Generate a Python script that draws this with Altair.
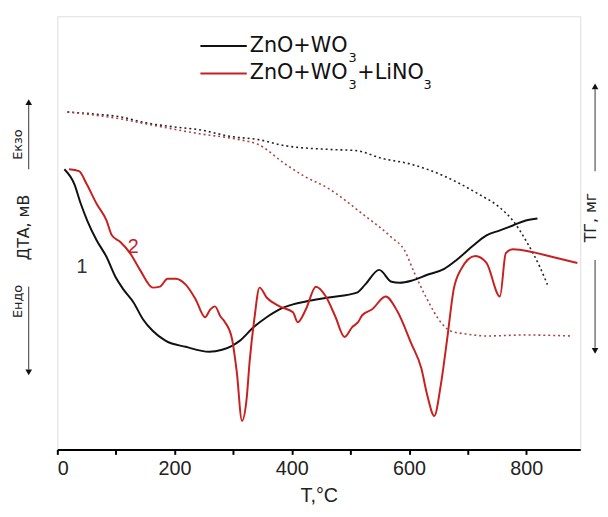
import altair as alt
import pandas as pd

# ---- data (temperature in °C, signals in arbitrary units) ----
T_dta_1 = [12, 29, 40, 51, 67, 84, 99, 113, 130, 146, 163, 185, 219, 259, 281, 298, 311, 335, 357, 379,
           402, 424, 463, 511, 525, 549, 570, 584, 604, 631, 660, 681, 710, 732, 755, 777, 799, 819]
dta_1 = [284, 269, 249, 232, 212, 195, 175, 162, 149, 132, 120, 110, 104, 99, 101, 105, 110, 124, 134, 142,
         147, 150, 154, 159, 167, 182, 170, 169, 171, 177, 183, 192, 207, 217, 222, 227, 232, 234]

T_dta_2 = [20, 37, 50, 67, 84, 93, 108, 124, 141, 163, 175, 188, 202, 219, 236, 252, 261, 269, 278, 286,
           298, 306, 315, 323, 328, 336, 345, 357, 379, 402, 410, 424, 441, 458, 474, 490, 503, 513, 520, 537,
           560, 580, 604, 621, 631, 643, 654, 665, 676, 688, 713, 732, 755, 765, 777, 811, 845, 887]
dta_2 = [284, 282, 269, 249, 232, 217, 210, 199, 182, 164, 165, 173, 173, 167, 152, 134, 142, 145, 135, 129,
         112, 79, 29, 52, 89, 132, 164, 154, 145, 139, 129, 142, 165, 155, 135, 114, 124, 129, 136, 142,
         155, 140, 107, 82, 55, 34, 65, 112, 162, 182, 196, 189, 155, 199, 203, 200, 195, 189]

T_tg_1 = [17, 62, 108, 151, 197, 242, 298, 343, 387, 466, 508, 554, 604, 660, 715, 755, 777, 799, 823, 836]
tg_1 = [342, 340, 337, 331, 327, 324, 317, 314, 308, 304, 303, 295, 289, 277, 260, 245, 232, 212, 185, 167]

T_tg_2 = [17, 108, 151, 242, 310, 343, 387, 421, 461, 520, 570, 592, 609, 631, 654, 671, 698, 732, 799, 875]
tg_2 = [342, 335, 330, 320, 314, 309, 290, 277, 265, 239, 215, 202, 179, 152, 129, 120, 117, 115, 116, 115]

x_ticks = [0, 100, 200, 300, 400, 500, 600, 700, 800]

RED = "#c8201f"
RED_DOT = "#a84444"
FONT = "Liberation Sans"
LFONT = "DejaVu Sans"

xs = alt.Scale(domain=[0, 892], nice=False, zero=False)
ys = alt.Scale(domain=[0, 439], nice=False, zero=False)


def curve(T, v, color, dash=None, width=2.0):
    df = pd.DataFrame({"T": T, "v": v})
    kw = dict(color=color, strokeWidth=width, interpolate="monotone")
    if dash:
        kw["strokeDash"] = dash
    return alt.Chart(df).mark_line(**kw).encode(
        x=alt.X("T:Q", scale=xs,
                axis=alt.Axis(values=x_ticks, title="T,°C",
                              labelExpr="datum.value % 200 == 0 ? datum.label : ''",
                              tickSize=5, tickColor="black", tickWidth=2,
                              domainColor="black", domainWidth=2,
                              labelFont=FONT, labelFontSize=20, labelColor="#222",
                              labelPadding=4, grid=False,
                              titleFont=FONT, titleFontSize=20, titleColor="#222",
                              titleFontWeight="normal", titlePadding=8)),
        y=alt.Y("v:Q", scale=ys, axis=None),
    )


one = pd.DataFrame({"a": [0]})


def txt(s, x, y, size, color="#222", angle=0, font=LFONT, align="center"):
    return alt.Chart(one).mark_text(text=s, font=font, fontSize=size, color=color, angle=angle,
                                    align=align, baseline="middle").encode(
        x=alt.value(x), y=alt.value(y))


def hline(x1, x2, y, color):
    return alt.Chart(one).mark_rule(color=color, strokeWidth=2).encode(
        x=alt.value(x1), x2=alt.value(x2), y=alt.value(y))


def vline(x, y1, y2):
    return alt.Chart(one).mark_rule(color="#333", strokeWidth=1).encode(
        x=alt.value(x), y=alt.value(y1), y2=alt.value(y2))


def head(x, y, shape):
    return alt.Chart(one).mark_point(shape=shape, filled=True, color="#111", size=45, opacity=1).encode(
        x=alt.value(x), y=alt.value(y))


layers = [
    curve(T_tg_1, tg_1, "#222", dash=[2, 3], width=1.6),
    curve(T_tg_2, tg_2, RED_DOT, dash=[2, 3], width=1.6),
    curve(T_dta_1, dta_1, "#111"),
    curve(T_dta_2, dta_2, RED),
    # curve numbers
    txt("1", 25, 254, 20, "#333", font=FONT),
    txt("2", 77, 234, 20, RED, font=FONT),
    # legend
    hline(145, 192, 30, "#111"),
    txt("ZnO+WO", 195, 30, 21, "#111", align="left"),
    txt("3", 295, 42, 13, "#111", align="left"),
    hline(145, 192, 58, RED),
    txt("ZnO+WO", 195, 58, 21, "#111", align="left"),
    txt("3", 295, 70, 13, "#111", align="left"),
    txt("+LiNO", 304, 58, 21, "#111", align="left"),
    txt("3", 371, 70, 13, "#111", align="left"),
    # left side labels
    txt("Екзо", -40, 130, 13, "#222", angle=270),
    vline(-29, 155, 90),
    head(-29, 87, "triangle-up"),
    txt("ДТА, мВ", -34, 214, 16, "#222", angle=270),
    txt("Ендо", -40, 289, 13, "#222", angle=270),
    vline(-29, 274, 358),
    head(-29, 361, "triangle-down"),
    # right side labels
    vline(545, 157, 74),
    head(545, 71, "triangle-up"),
    txt("ТГ, мг", 541, 204, 16, "#222", angle=270),
    vline(545, 247, 336),
    head(545, 339, "triangle-down"),
]

chart = alt.layer(*layers).properties(
    width=530, height=439,
    padding={"left": 50, "top": 5, "right": 20, "bottom": 60},
    autosize=alt.AutoSizeParams(type="none"),
).configure_view(stroke="black", strokeWidth=2).configure(background="white")

chart.save("out.html", embed_options={"renderer": "svg", "actions": False})
